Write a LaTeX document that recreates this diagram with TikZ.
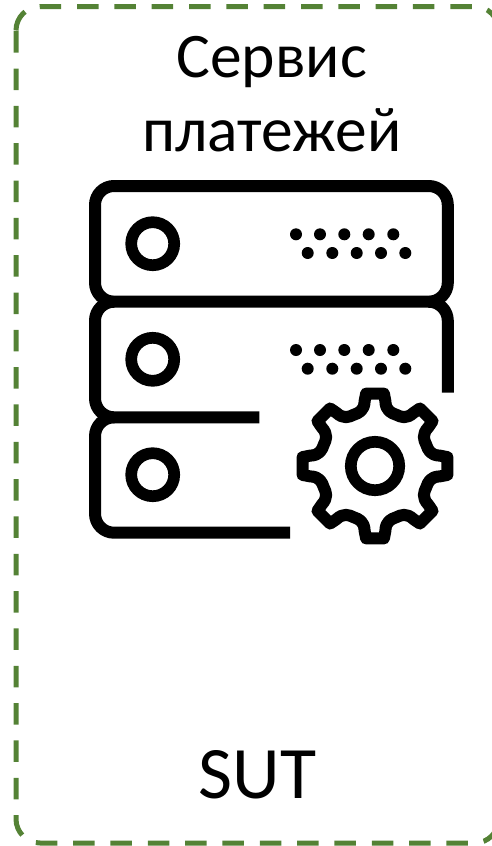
\documentclass[tikz,border=0pt]{standalone}
\usepackage{fontspec}
\setmainfont{Carlito}
\definecolor{frame}{HTML}{548235}
\tikzset{
  border/.style={draw=frame,line width=5pt,dash pattern=on 21.5pt off 15.83pt},
  icon/.style={draw=black,line width=12pt,line cap=butt,line join=round},
  titletext/.style={inner sep=0pt,align=center,font=\fontsize{63.5}{74.6}\selectfont,text=black},
  suttext/.style={inner sep=0pt,font=\fontsize{74}{74}\selectfont,text=black},
  dotmark/.style={fill=black,draw=none}
}
\begin{document}
\begin{tikzpicture}[x=1pt,y=-1pt]
\useasboundingbox (0,0) rectangle (492,846);
\clip (0,0) rectangle (492,846);
% dashed frame
\draw[border] (16,30.5) .. controls (16,17.25) and (26.75,6.5) .. (40,6.5) -- (474.7,6.5)
  .. controls (487.95,6.5) and (498.7,17.25) .. (498.7,30.5) -- (498.7,60);
\draw[border,dash phase=30.26pt] (498.7,819) .. controls (498.7,832.25) and (487.95,843) .. (474.7,843)
  -- (40,843) .. controls (26.75,843) and (16,832.25) .. (16,819) -- (16,30.5);
% labels
\node[titletext,anchor=base] (title) at (271.7,151.7) {Сервис\\платежей};
\node[suttext,anchor=base] (sut) at (257.5,798) {SUT};
% server stack
\draw[icon] (114,301.7) .. controls (103.5,301.7) and (95,293.2) .. (95,282.7) -- (95,205)
  .. controls (95,194.5) and (103.5,186) .. (114,186) -- (428.8,186)
  .. controls (439.3,186) and (447.8,194.5) .. (447.8,205) -- (447.8,282.7)
  .. controls (447.8,293.2) and (439.3,301.7) .. (428.8,301.7) -- cycle;
\draw[icon] (447.8,392.7) -- (447.8,320.7) .. controls (447.8,310.2) and (439.3,301.7) .. (428.8,301.7);
\draw[icon] (114,301.7) .. controls (103.5,301.7) and (95,310.2) .. (95,320.7) -- (95,398.3)
  .. controls (95,408.8) and (103.5,417.3) .. (114,417.3) -- (259.3,417.3);
\draw[icon] (114,417.3) .. controls (103.5,417.3) and (95,425.8) .. (95,436.3) -- (95,513.7)
  .. controls (95,524.2) and (103.5,532.7) .. (114,532.7) -- (290,532.7);
% lamps
\foreach \y in {243.7,359.3,474.7}
  \draw[draw=black,line width=11.7pt] (152.7,\y) circle[radius=21.5pt];
% dots
\foreach \y in {234.3,350}
  \foreach \x in {296,320,344.3,368.7,393.3}
    \fill[dotmark] (\x,\y) circle[radius=6pt];
\foreach \y in {253,368.7}
  \foreach \x in {307.7,332.3,356.7,381,405.3}
    \fill[dotmark] (\x,\y) circle[radius=6pt];
% gear
\begin{scope}[shift={(375,466)}]
  \draw[icon] (-7:73)
    \foreach \a in {0,45,...,315} {
      -- (\a+7:73) -- (\a+9:66)
      .. controls (\a+11:56) and (\a+17:55.5) .. (\a+22.5:55.5)
      .. controls (\a+28:55.5) and (\a+34:56) .. (\a+36:66)
      -- (\a+38:73)
    } -- cycle;
  \draw[draw=black,line width=11.7pt] (0,0) circle[radius=24.2pt];
\end{scope}
\end{tikzpicture}
\end{document}
